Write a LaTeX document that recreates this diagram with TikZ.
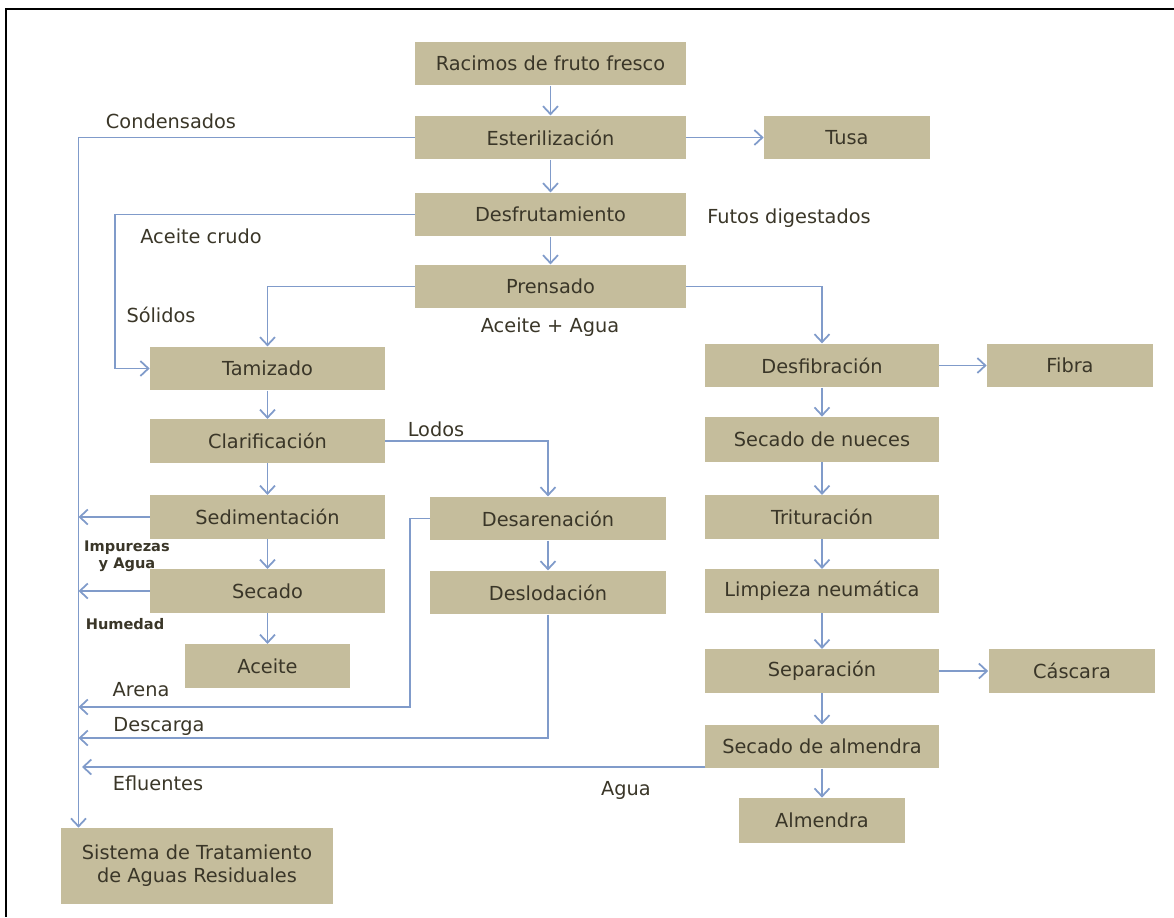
\documentclass[tikz,border=0pt]{standalone}
\usepackage{fontspec}
\setmainfont{DejaVu Sans}
\usetikzlibrary{arrows.meta}
\definecolor{fondo}{RGB}{197,189,156}
\definecolor{flecha}{RGB}{128,155,202}
\definecolor{tinta}{RGB}{58,54,40}

\begin{document}
\begin{tikzpicture}[x=0.02cm,y=-0.02cm,
    >={Straight Barb[length=1.6mm,width=3mm]},
    caja/.style={fill=fondo,text=tinta,inner sep=0pt,minimum height=0.87cm,align=center,font=\fontsize{11}{13}\selectfont},
    etiq/.style={text=tinta,font=\fontsize{11}{13}\selectfont},
    chica/.style={text=tinta,align=center,font=\fontsize{8.3}{9.5}\selectfont\bfseries},
    flujo/.style={draw=flecha,line width=1pt,->}]
      \useasboundingbox (0,0) rectangle (1174,917);
      \draw[line width=1.2pt] (1174,9) -- (6,9) -- (6,917);

      % linea central
      \node[caja,minimum width=5.42cm] (1) at (550.5,63.5) {Racimos de fruto fresco};
      \node[caja,minimum width=5.42cm] (2) at (550.5,137.5) {Esterilización};
      \node[caja,minimum width=3.32cm] (3) at (847,137.5) {Tusa};
      \node[caja,minimum width=5.42cm] (4) at (550.5,214.5) {Desfrutamiento};
      \node[caja,minimum width=5.42cm] (5) at (550.5,286.5) {Prensado};

      % aceite
      \node[caja,minimum width=4.7cm] (6) at (267.5,368.5) {Tamizado};
      \node[caja,minimum width=4.7cm] (7) at (267.5,441) {Clarificación};
      \node[caja,minimum width=4.7cm] (8) at (267.5,517) {Sedimentación};
      \node[caja,minimum width=4.7cm] (9) at (267.5,591) {Secado};
      \node[caja,minimum width=3.32cm] (10) at (267.5,666) {Aceite};
      \node[caja,minimum width=4.72cm] (11) at (548,518.5) {Desarenación};
      \node[caja,minimum width=4.72cm] (12) at (548,592.5) {Deslodación};
      \node[caja,minimum width=5.44cm,minimum height=1.52cm] (13) at (197,866) {Sistema de Tratamiento\\de Aguas Residuales};

      % nueces
      \node[caja,minimum width=4.68cm] (14) at (822,365.5) {Desfibración};
      \node[caja,minimum width=3.32cm] (15) at (1070,365.5) {Fibra};
      \node[caja,minimum width=4.68cm,minimum height=0.9cm] (16) at (822,439.5) {Secado de nueces};
      \node[caja,minimum width=4.68cm] (17) at (822,517) {Trituración};
      \node[caja,minimum width=4.68cm] (18) at (822,591) {Limpieza neumática};
      \node[caja,minimum width=4.68cm] (19) at (822,671) {Separación};
      \node[caja,minimum width=3.34cm] (20) at (1072,671) {Cáscara};
      \node[caja,minimum width=4.68cm] (21) at (822,746.5) {Secado de almendra};
      \node[caja,minimum width=3.34cm,minimum height=0.9cm] (22) at (822,820.5) {Almendra};

      % etiquetas
      \node[etiq] (cond) at (171,121) {Condensados};
      \node[etiq] (crudo) at (201,236) {Aceite crudo};
      \node[etiq] (sol) at (161,315) {Sólidos};
      \node[etiq] (mezcla) at (550,327) {Aceite + Agua};
      \node[etiq] (fut) at (789,218) {Futos digestados};
      \node[etiq] (lod) at (436,429) {Lodos};
      \node[chica] (imp) at (127,556) {Impurezas\\y Agua};
      \node[chica] (hum) at (125,624) {Humedad};
      \node[etiq] (are) at (141,690) {Arena};
      \node[etiq] (desc) at (159,726) {Descarga};
      \node[etiq] (efl) at (158,783) {Efluentes};
      \node[etiq] (agu) at (626,790) {Agua};

      \coordinate (col) at (78.5,137.5);
      \coordinate (c2) at (115,214.5);
      \coordinate (c3) at (410,707);
      \coordinate (c4) at (548,738);
      \coordinate (c5) at (82,767);

      \draw[flujo] (1) -- (2);
      \draw[flujo] (2) -- (4);
      \draw[flujo] (4) -- (5);
      \draw[flujo] (2) -- (3);
      \draw[flujo] (2.west) -- (col) -- (col |- 13.north);
      \draw[flujo] (4.west) -- (c2) |- (6.west);
      \draw[flujo] (5.west) -| (6.north);
      \draw[flujo] (5.east) -| (14.north);
      \draw[flujo] (6) -- (7);
      \draw[flujo] (7) -- (8);
      \draw[flujo] (8) -- (9);
      \draw[flujo] (9) -- (10);
      \draw[flujo] (7.east) -| (11.north);
      \draw[flujo] (11) -- (12);
      \draw[flujo] (8.west) -- (8.west -| col);
      \draw[flujo] (9.west) -- (9.west -| col);
      \draw[flujo] (11.west) -| (c3) -- (c3 -| col);
      \draw[flujo] (12.south) -- (c4) -- (c4 -| col);
      \draw[flujo] (21.west |- c5) -- (c5);
      \draw[flujo] (14) -- (15);
      \draw[flujo] (14) -- (16);
      \draw[flujo] (16) -- (17);
      \draw[flujo] (17) -- (18);
      \draw[flujo] (18) -- (19);
      \draw[flujo] (19) -- (20);
      \draw[flujo] (19) -- (21);
      \draw[flujo] (21) -- (22);
    \end{tikzpicture}
\end{document}
